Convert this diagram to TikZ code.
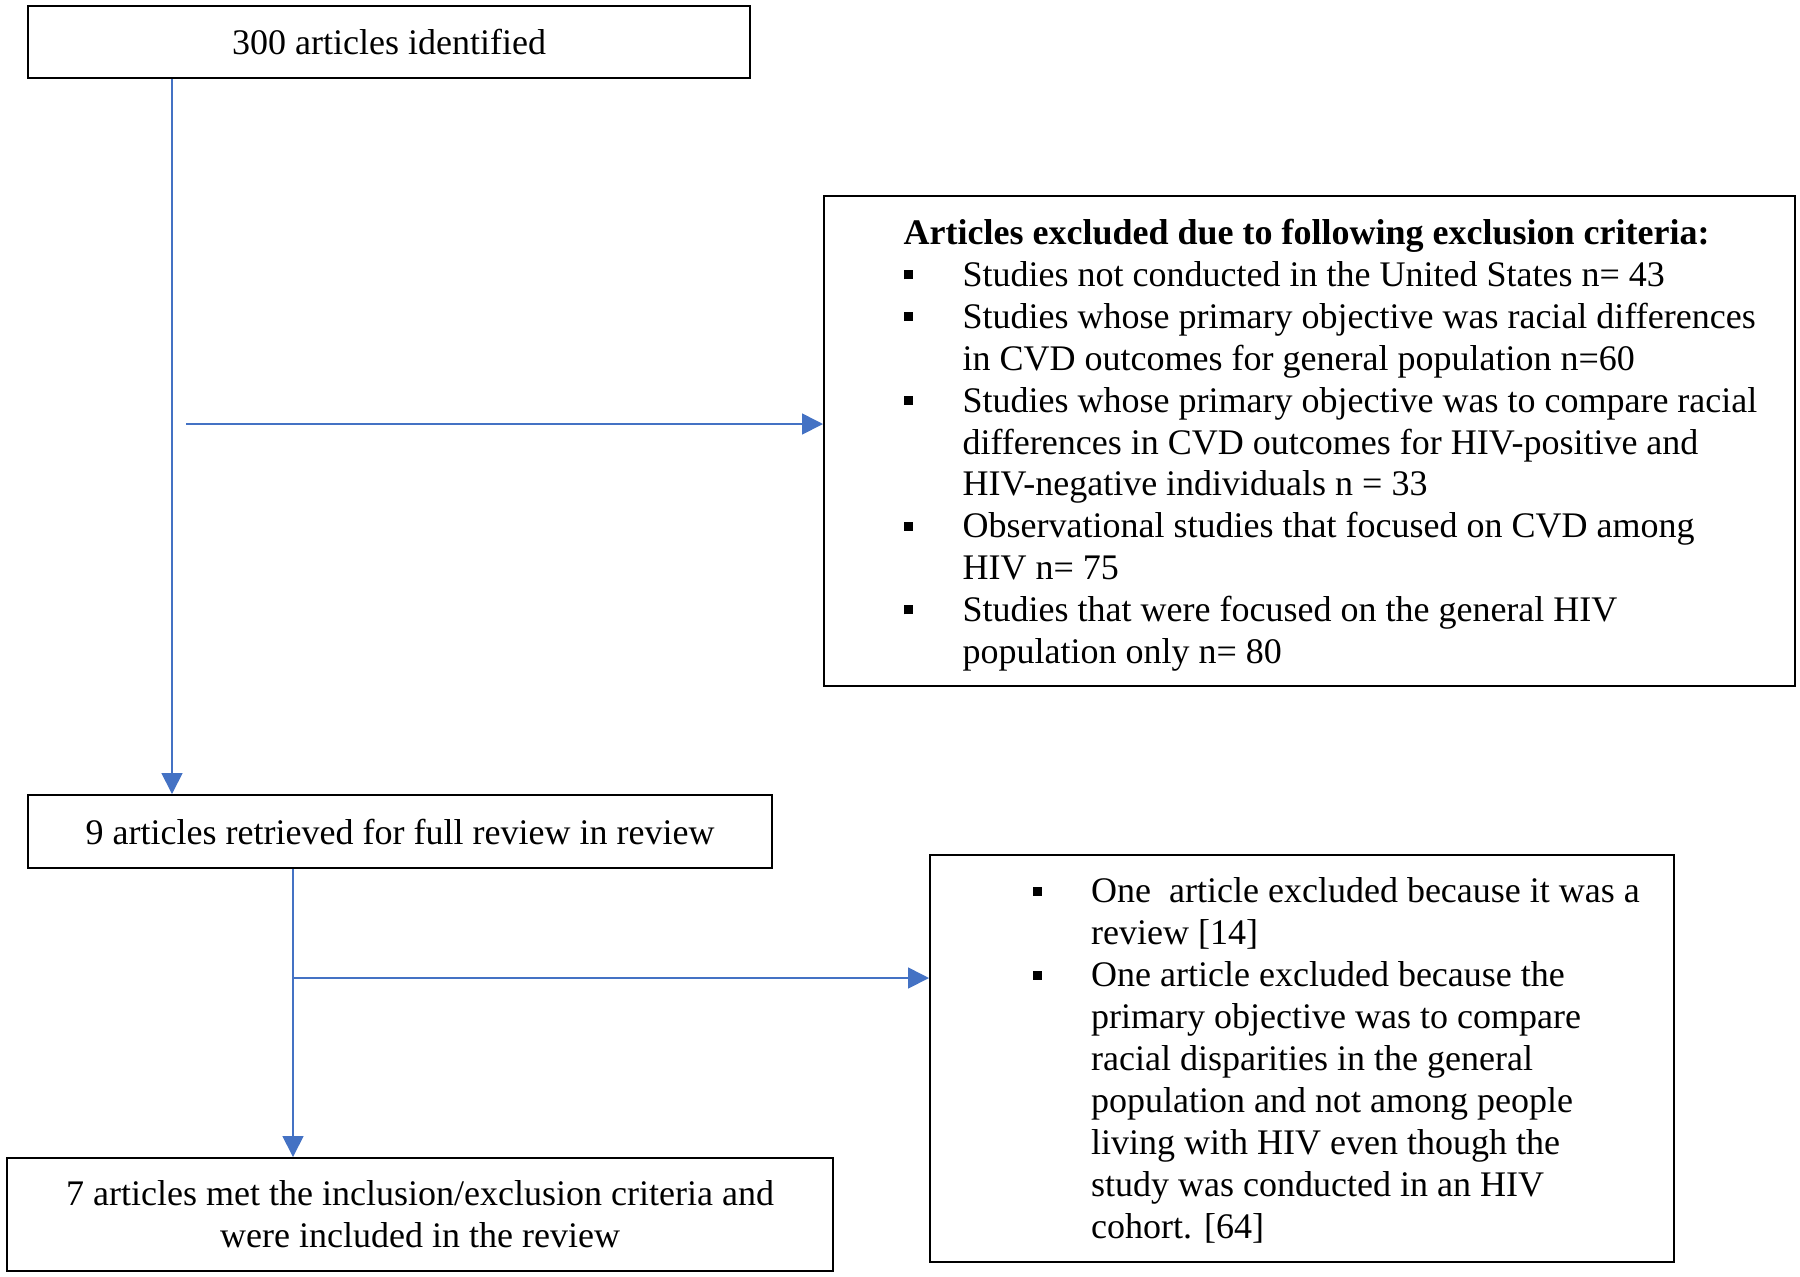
\documentclass[tikz,border=0pt]{standalone}
\usepackage{fontspec}
\setmainfont{Liberation Serif}
\usetikzlibrary{arrows.meta}
\definecolor{arrowblue}{HTML}{4472C4}
\newcommand{\sqbul}{\rule[3.6pt]{4.5pt}{4.5pt}}
\begin{document}
\begin{tikzpicture}[x=0.5pt,y=-0.5pt,
  box/.style={draw=black, line width=1.1pt, inner sep=0pt, anchor=north west,
    font=\fontsize{18}{20.95}\selectfont},
  arr/.style={draw=arrowblue, line width=0.85pt, -{Triangle[length=10.5pt,width=10.5pt]}}]
\useasboundingbox (0,0) rectangle (1800,1276);

\node[box, minimum width=361pt, minimum height=36pt] (b1) at (27,5) {300 articles identified};

\node[box, minimum width=485.5pt, minimum height=245pt] (excl) at (823,195)
 {\raisebox{-2.3pt}[\height][\depth]{\makebox[485pt][l]{\hspace*{39.5pt}\begin{tabular}{@{}p{29.5pt}@{}l@{}}
 \multicolumn{2}{@{}l@{}}{\textbf{Articles excluded due to following exclusion criteria:}}\\
 \sqbul & Studies not conducted in the United States n= 43\\
 \sqbul & Studies whose primary objective was racial differences\\
  & in CVD outcomes for general population n=60\\
 \sqbul & Studies whose primary objective was to compare racial\\
  & differences in CVD outcomes for HIV-positive and\\
  & HIV-negative individuals n = 33\\
 \sqbul & Observational studies that focused on CVD among\\
  & HIV n= 75\\
 \sqbul & Studies that were focused on the general HIV\\
  & population only n= 80
 \end{tabular}}}};

\node[box, minimum width=372pt, minimum height=36.5pt] (b3) at (27,794) {9 articles retrieved for full review in review};

\node[box, minimum width=413pt, minimum height=56.5pt, align=center] (b4) at (6,1157)
 {7 articles met the inclusion/exclusion criteria and\\were included in the review};

\node[box, minimum width=372pt, minimum height=203.5pt] (b5) at (929,854)
 {\raisebox{-1.8pt}[\height][\depth]{\makebox[371pt][l]{\hspace*{51pt}\begin{tabular}{@{}p{29pt}@{}l@{}}
 \sqbul & One\ \ article excluded because it was a\\
  & review [14]\\
 \sqbul & One article excluded because the\\
  & primary objective was to compare\\
  & racial disparities in the general\\
  & population and not among people\\
  & living with HIV even though the\\
  & study was conducted in an HIV\\
  & cohort. [64]
 \end{tabular}}}};

\coordinate (c1) at (172,0);
\coordinate (c2) at (186,424);
\coordinate (c3) at (293,0);
\coordinate (c4) at (293,978);

\draw[arr] (c1 |- b1.south) -- (c1 |- b3.north);
\draw[arr] (c2) -- (c2 -| excl.west);
\draw[arr] (c3 |- b3.south) -- (c3 |- b4.north);
\draw[arr] (c4) -- (c4 -| b5.west);
\end{tikzpicture}
\end{document}
